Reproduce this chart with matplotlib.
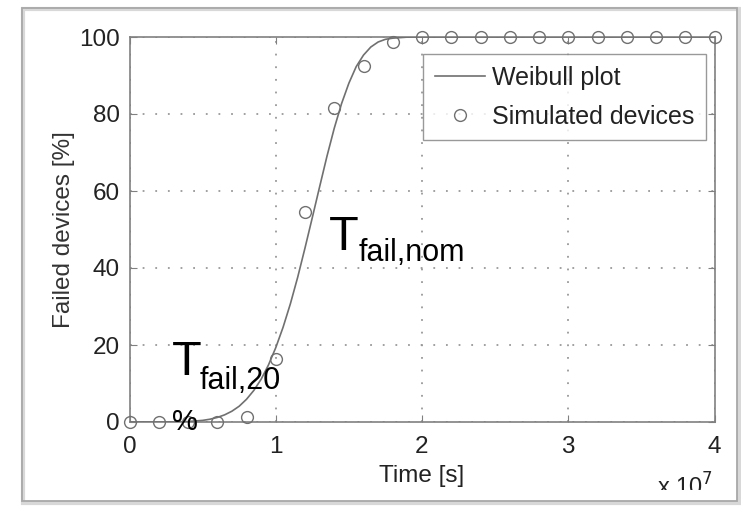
import matplotlib
matplotlib.use("Agg")
import matplotlib.pyplot as plt
from matplotlib.patches import Rectangle
from matplotlib.transforms import Bbox

plt.rcParams['font.family'] = ['Liberation Sans', 'DejaVu Sans']

# ---- data (time in units of 1e7 s, failed devices in %) ----
weibull_t = [0.0, 0.1, 0.2, 0.3, 0.4, 0.5, 0.55, 0.6, 0.65, 0.7, 0.75, 0.8, 0.85, 0.9, 0.95,
             1.0, 1.05, 1.1, 1.15, 1.2, 1.25, 1.3, 1.35, 1.4, 1.45, 1.5, 1.55, 1.6, 1.65,
             1.7, 1.75, 1.8, 1.9, 2.0, 4.0]
weibull_pct = [0.0, 0.0, 0.0, 0.02, 0.12, 0.42, 0.72, 1.18, 1.85, 2.8, 4.1, 5.9, 8.2, 11.1, 14.8,
               19.3, 24.6, 30.7, 37.6, 45.2, 53.1, 61.1, 69.0, 76.3, 82.7, 88.0, 92.3, 95.3, 97.4,
               98.7, 99.4, 99.7, 99.97, 100.0, 100.0]

sim_t = [0.0, 0.2, 0.4, 0.6, 0.8, 1.0, 1.2, 1.4, 1.6, 1.8, 2.0, 2.2, 2.4, 2.6, 2.8,
         3.0, 3.2, 3.4, 3.6, 3.8, 4.0]
sim_pct = [0.0, 0.0, 0.0, 0.0, 1.4, 16.3, 54.5, 81.5, 92.5, 98.6, 100, 100, 100, 100, 100,
           100, 100, 100, 100, 100, 100]

x_ticks = [0, 1, 2, 3, 4]
y_ticks = [0, 20, 40, 60, 80, 100]

W, H = 741, 508
fig = plt.figure(figsize=(W / 100, H / 100), dpi=100)
fig.patch.set_facecolor('white')

# outer screenshot frame
fig.patches.append(Rectangle((23 / W, 1 - 503 / H), 716 / W, 494 / H, transform=fig.transFigure,
                             facecolor='none', edgecolor='#d8d8d8', lw=3.0, zorder=0))
fig.patches.append(Rectangle((22 / W, 1 - 501 / H), 715 / W, 493 / H, transform=fig.transFigure,
                             facecolor='none', edgecolor='#a8a8a8', lw=1.3, zorder=0))

left, right, top, bottom = 129.5, 714.5, 37, 422
ax = fig.add_axes([left / W, 1 - bottom / H, (right - left) / W, (bottom - top) / H])

line_col = '#707070'
ax.plot(weibull_t, weibull_pct, color=line_col, lw=1.2, label='Weibull plot', zorder=3)
ax.plot(sim_t, sim_pct, linestyle='none', marker='o', markersize=8.5, markerfacecolor='none',
        markeredgecolor=line_col, markeredgewidth=1.0, label='Simulated devices', clip_on=False,
        zorder=4)

ax.set_xlim(0, 4)
ax.set_ylim(0, 100)
ax.set_xticks(x_ticks)
ax.set_yticks(y_ticks)
ax.set_xticklabels([str(v) for v in x_ticks])
ax.set_yticklabels([str(v) for v in y_ticks])
ax.tick_params(direction='in', length=5, width=0.8, color='#808080', top=True, right=True,
               labelsize=17.5, labelcolor='#222222')
ax.tick_params(axis='x', pad=10)
ax.tick_params(axis='y', pad=7)
for s in ax.spines.values():
    s.set_color('#808080')
    s.set_linewidth(1.2)
ax.grid(True, color='#999999', linestyle=(0, (1, 6)), lw=1.3)

ax.set_xlabel('Time [s]', fontsize=17.5, color='#222222', labelpad=5)
ax.set_ylabel('Failed devices [%]', fontsize=17.5, color='#333333', labelpad=3)

leg = ax.legend(loc='upper right', bbox_to_anchor=(0.985, 0.955), fontsize=18, frameon=True,
                fancybox=False, handlelength=2.0, handletextpad=0.3, borderpad=0.45,
                labelspacing=0.62, borderaxespad=0)
leg.get_frame().set_edgecolor('#808080')
leg.get_frame().set_linewidth(1.0)
for t in leg.get_texts():
    t.set_color('#222222')

# annotations
ax.text(0.288, 12.2, 'T', fontsize=35, color='black', ha='left', va='baseline', zorder=6)
ax.text(0.482, 8.6, 'fail,20', fontsize=22, color='black', ha='left', va='baseline', zorder=6)
ax.text(0.288, -2.0, '%', fontsize=21, color='black', ha='left', va='baseline', zorder=6,
        clip_on=False)
ax.text(1.366, 44.7, 'T', fontsize=35, color='black', ha='left', va='baseline', zorder=6)
ax.text(1.565, 41.8, 'fail,nom', fontsize=22, color='black', ha='left', va='baseline', zorder=6)

# x10^7 multiplier (partially cut off at the bottom, as in the screenshot)
mult = fig.text(713 / W, 1 - 496 / H, r'x 10$^7$', fontsize=17, color='#222222',
                ha='right', va='baseline')
mult.set_clip_box(Bbox.from_extents(0, H - 490, W, H))
mult.set_clip_on(True)

fig.savefig('out.png', dpi=100, facecolor='white')
